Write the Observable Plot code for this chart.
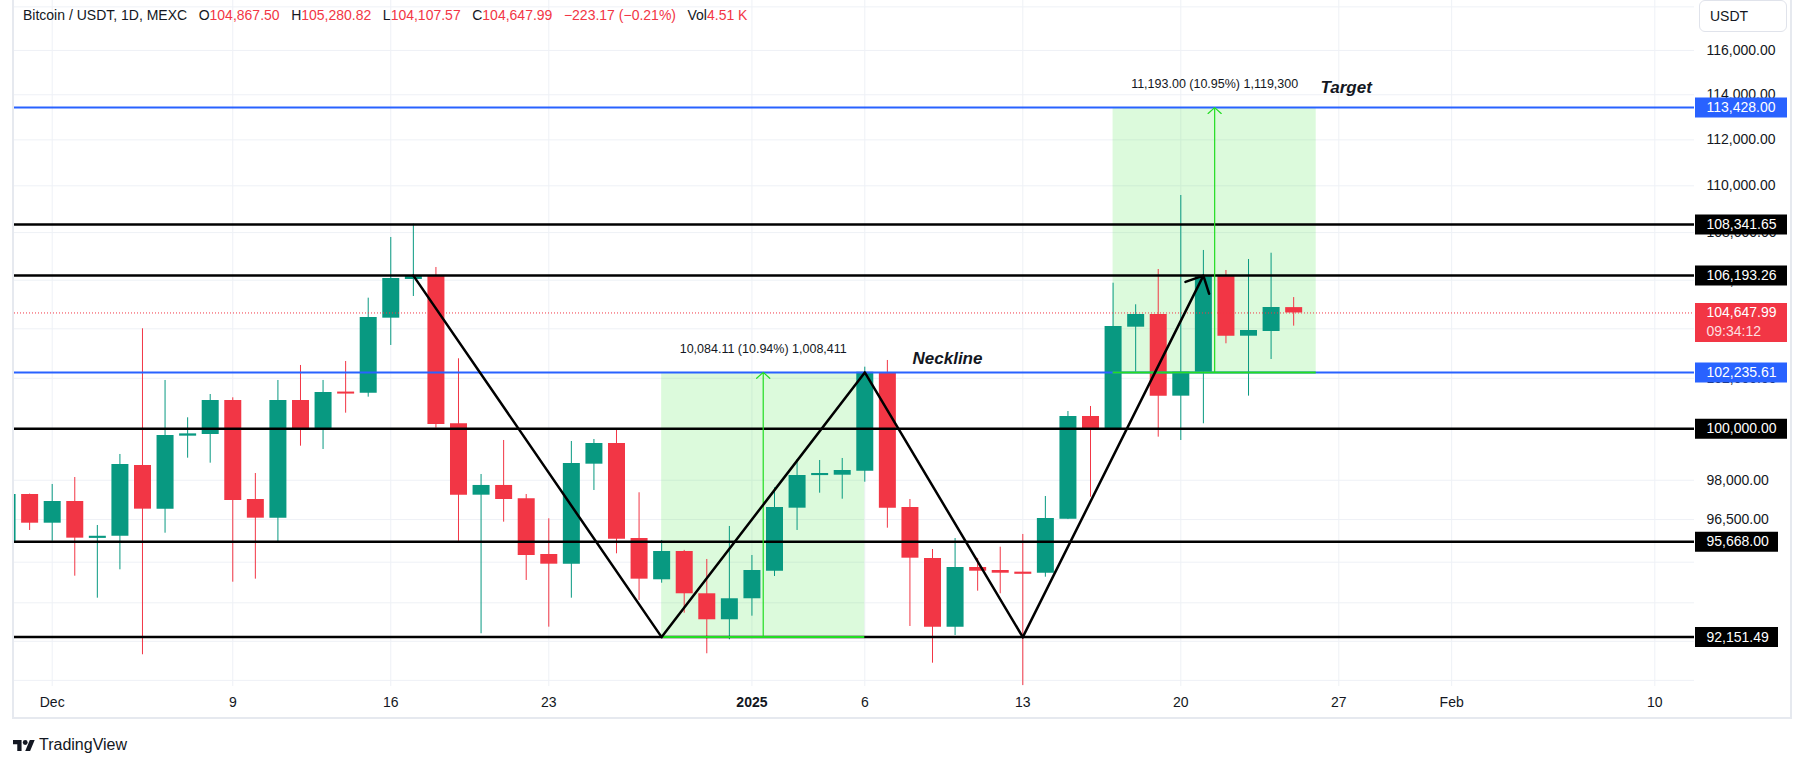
<!DOCTYPE html>
<html><head><meta charset="utf-8">
<script src="https://cdn.jsdelivr.net/npm/d3@7"></script>
<script src="https://cdn.jsdelivr.net/npm/@observablehq/plot@0.6"></script>
<style>
html,body{margin:0;padding:0;background:#fff;overflow:hidden;}
#wrap{position:relative;width:1804px;height:764px;overflow:hidden;font-family:"Liberation Sans",Arial,sans-serif;color:#131722;background:#fff;}
#chart{position:absolute;left:0;top:0;}
#frame{position:absolute;left:12px;top:-2px;width:1776px;height:719px;border:2px solid #e6e9ef;border-top:none;box-sizing:content-box;pointer-events:none;}
#hdr{position:absolute;left:23px;top:7px;font-size:14px;line-height:17px;white-space:nowrap;}
#hdr span{margin-right:11.5px;}
.r{color:#f23645;}
#usdt{position:absolute;left:1699px;top:0px;width:88px;height:32px;border:1px solid #e0e3eb;border-radius:6px;box-sizing:border-box;font-size:14px;line-height:30px;padding-left:10px;background:#fff;}
#foot{position:absolute;left:13px;top:736px;height:18px;display:flex;align-items:center;font-size:16px;}
#foot svg{margin-right:4px;}
</style>
</head>
<body>
<div id="wrap">
  <div id="chart"></div>
  <div id="frame"></div>
  <div id="hdr"><span>Bitcoin / USDT, 1D, MEXC</span><span>O<span class="r" style="margin:0">104,867.50</span></span><span>H<span class="r" style="margin:0">105,280.82</span></span><span>L<span class="r" style="margin:0">104,107.57</span></span><span>C<span class="r" style="margin:0">104,647.99</span></span><span class="r">−223.17 (−0.21%)</span><span>Vol<span class="r" style="margin:0">4.51 K</span></span></div>
  <div id="usdt">USDT</div>
  <div id="foot"><svg width="22" height="11" viewBox="0 4 36 18"><path fill="#131722" d="M14 22H7V11H0V4h14v18zM28 22h-8l7.5-18h8L28 22z"/><circle fill="#131722" cx="20" cy="8" r="4"/></svg><span>TradingView</span></div>
</div>
<script>
// ---- data ----
const dates = ["2024-11-29","2024-11-30","2024-12-01","2024-12-02","2024-12-03","2024-12-04","2024-12-05","2024-12-06","2024-12-07","2024-12-08","2024-12-09","2024-12-10","2024-12-11","2024-12-12","2024-12-13","2024-12-14","2024-12-15","2024-12-16","2024-12-17","2024-12-18","2024-12-19","2024-12-20","2024-12-21","2024-12-22","2024-12-23","2024-12-24","2024-12-25","2024-12-26","2024-12-27","2024-12-28","2024-12-29","2024-12-30","2024-12-31","2025-01-01","2025-01-02","2025-01-03","2025-01-04","2025-01-05","2025-01-06","2025-01-07","2025-01-08","2025-01-09","2025-01-10","2025-01-11","2025-01-12","2025-01-13","2025-01-14","2025-01-15","2025-01-16","2025-01-17","2025-01-18","2025-01-19","2025-01-20","2025-01-21","2025-01-22","2025-01-23","2025-01-24","2025-01-25"];
const opens  = [95610,97454,96363,97187,95790,95870,98570,96895,99710,99776,101115,97263,96553,101115,99984,101450,101405,104434,106031,106168,100196,97428,97800,97290,95187,94826,98620,99424,95786,94247,95299,93731,92780,93548,94565,96932,98180,98195,98350,102235,96958,95040,92511,94703,94591,94530,94491,96515,100483,99961,104065,104585,101287,102244,106168,103698,103890,104867.50];
const highs  = [97800,97470,97838,98106,96276,98996,104000,101912,100431,101353,101222,98260,101912,102514,101912,102674,105256,107793,108358,106531,102783,98222,99541,97454,96530,99502,99580,99971,97520,95712,95340,95001,96239,95150,97711,98801,98763,98841,102445,102715,97263,95372,95786,95040,95460,95938,97378,100679,100878,105877,104984,106447,109583,107245,106406,106866,107130,105280.82];
const lows   = [95400,96088,95684,94380,93569,94617,91515,95986,98852,98659,94158,94270,95648,99319,99190,100613,101247,103321,105326,100022,95684,92272,96402,94222,92511,93569,97607,95213,93486,94121,93021,91551,92055,92911,94369,96088,97504,97274,97925,96174,92536,91213,92210,93827,93731,90419,94343,96500,97351,99950,102244,99670,99541,100196,103390,101287,102755,104107.57];
const closes = [97454,96363,97187,95799,95870,98608,96895,99737,99800,101115,97226,96553,101115,99984,101433,101370,104462,106073,106168,100168,97428,97800,97263,95150,94826,98647,99424,95761,94270,95299,93731,92780,93548,94591,96958,98183,98260,98377,102244,96932,95049,92511,94703,94565,94491,94450,96541,100483,99961,104094,104585,101287,102244,106198,103698,103931,104873,104647.99];

const blackLevels = [108341.65, 106193.26, 100000, 95668, 92151.49];
const blueLevels = [113428, 102235.61];
const lastPrice = 104647.99;
const countdown = "09:34:12";

// W pattern (zigzag) points
const zigDates = ["2024-12-17","2024-12-28","2025-01-06","2025-01-13","2025-01-21"];
const zigPrices = [106193.26, 92151.49, 102235.61, 92151.49, 106193.26];

// price range tools
const rangeStart = ["2024-12-28","2025-01-17"];
const rangeEnd = ["2025-01-06","2025-01-26"];
const rangeLo = [92151.49, 102235.61];
const rangeHi = [102235.61, 113428];
const rangeText = ["10,084.11 (10.94%) 1,008,411", "11,193.00 (10.95%) 1,119,300"];

// text notes
const noteText = ["Neckline", "Target"];
const noteDates = ["2025-01-08", "2025-01-26"];
const notePrices = [102235.61, 113428];

// axis ticks
const yTicks = [90600, 92000, 93400, 94900, 96500, 98000, 100000, 102000, 104000, 106000, 108000, 110000, 112000, 114000, 116000, 118000];
const xTickDates = ["2024-12-01","2024-12-09","2024-12-16","2024-12-23","2025-01-01","2025-01-06","2025-01-13","2025-01-20","2025-01-27","2025-02-01","2025-02-10"];
const xTickLabels = ["Dec","9","16","23","2025","6","13","20","27","Feb","10"];
const xBold = ["2025"];

// ---- build ----
const UP = "#089981", DOWN = "#f23645", GREEN = "#22dd22";
const candles = dates.map((d, i) => ({date: new Date(d), open: opens[i], high: highs[i], low: lows[i], close: closes[i]}));
const ups = candles.filter(d => d.close >= d.open);
const downs = candles.filter(d => d.close < d.open);
const zig = zigDates.map((d, i) => ({date: new Date(d), price: zigPrices[i]}));
const zigLine = zig.slice(0, 4);
const zigArrow = [{x1: zig[3].date, y1: zig[3].price, x2: zig[4].date, y2: zig[4].price}];
const ranges = rangeStart.map((s, i) => {
  const a = new Date(s), b = new Date(rangeEnd[i]);
  return {start: a, end: b, mid: new Date((+a + +b) / 2), lo: rangeLo[i], hi: rangeHi[i], text: rangeText[i]};
});
const notes = noteText.map((t, i) => ({text: t, date: new Date(noteDates[i]), price: notePrices[i]}));
const xTicks = xTickDates.map(d => new Date(d));
const xLabel = new Map(xTicks.map((d, i) => [+d, xTickLabels[i]]));
const xTicksNormal = xTicks.filter((d, i) => !xBold.includes(xTickLabels[i]));
const xTicksBold = xTicks.filter((d, i) => xBold.includes(xTickLabels[i]));
const fmt = d3.format(",.2f");
const t0 = Date.UTC(2024, 11, 1), DAY = 864e5;
const dayAt = d => new Date(t0 + d * DAY);

const black10 = blackLevels.filter(v => fmt(v).length >= 10);
const black9 = blackLevels.filter(v => fmt(v).length < 10);
const allLevels = [...blueLevels, ...blackLevels];
const noteStyle = {x: "date", y: "price", text: "text", textAnchor: "start", fontSize: 17, fontWeight: "bold", fontStyle: "italic", fill: "#131722"};

const chart = Plot.plot({
  width: 1804, height: 764,
  marginLeft: 14, marginRight: 110, marginTop: 0, marginBottom: 78,
  style: {fontFamily: '"Liberation Sans", Arial, sans-serif', fontSize: "14px", color: "#131722", background: "transparent", overflow: "visible"},
  x: {type: "utc", domain: [dayAt(-1.670), dayAt(72.758)]},
  y: {type: "log", domain: [90383, 118295]},
  marks: [
    Plot.gridX(xTicks, {stroke: "#eef1f6", strokeOpacity: 1}),
    Plot.gridY(yTicks, {stroke: "#eef1f6", strokeOpacity: 1}),
    Plot.axisY({ticks: yTicks, anchor: "right", tickSize: 0, tickPadding: 12, tickFormat: fmt, fontSize: 14, fill: "#131722", label: null}),
    Plot.axisX({ticks: xTicksNormal, tickSize: 0, tickPadding: 11, tickFormat: d => xLabel.get(+d), fontSize: 14, fill: "#131722", label: null}),
    Plot.axisX({ticks: xTicksBold, tickSize: 0, tickPadding: 11, tickFormat: d => xLabel.get(+d), fontSize: 14, fontWeight: "bold", fill: "#131722", label: null}),
    // price range fill
    Plot.rect(ranges, {x1: "start", x2: "end", y1: "lo", y2: "hi", fill: "#3ce63c", fillOpacity: 0.18}),
    // candles
    Plot.ruleX(ups, {x: "date", y1: "low", y2: "high", stroke: UP, strokeWidth: 1, clip: true}),
    Plot.ruleX(downs, {x: "date", y1: "low", y2: "high", stroke: DOWN, strokeWidth: 1, clip: true}),
    Plot.ruleX(ups, {x: "date", y1: "open", y2: "close", stroke: UP, strokeWidth: 17, clip: true}),
    Plot.ruleX(downs, {x: "date", y1: "open", y2: "close", stroke: DOWN, strokeWidth: 17, clip: true}),
    // horizontal levels
    Plot.ruleY(blueLevels, {stroke: "#2962ff", strokeWidth: 2}),
    Plot.ruleY(blackLevels, {stroke: "#000", strokeWidth: 2.5}),
    Plot.ruleY([lastPrice], {stroke: DOWN, strokeWidth: 1, strokeDasharray: "1,2"}),
    // price range lines/arrows
    Plot.ruleY(ranges, {y: "lo", x1: "start", x2: "end", stroke: GREEN, strokeWidth: 2}),
    Plot.arrow(ranges, {x1: "mid", x2: "mid", y1: "lo", y2: "hi", stroke: GREEN, strokeWidth: 1.2, headLength: 11, headAngle: 96}),
    Plot.text(ranges, {x: "mid", y: "hi", text: "text", dy: -23.5, fontSize: 12.5, fill: "#131722"}),
    // W pattern
    Plot.line(zigLine, {x: "date", y: "price", stroke: "#000", strokeWidth: 2.5}),
    Plot.arrow(zigArrow, {x1: "x1", y1: "y1", x2: "x2", y2: "y2", stroke: "#000", strokeWidth: 2.5, headLength: 11.4, headAngle: 88}),
    // notes
    Plot.text(notes.filter(d => d.text === "Neckline"), {...noteStyle, dx: 2.6, dy: -14}),
    Plot.text(notes.filter(d => d.text === "Target"), {...noteStyle, dx: 4.3, dy: -20}),
    // price labels on the axis
    Plot.tickY(blueLevels, {stroke: "#2962ff", strokeWidth: 20, insetLeft: 1681, insetRight: -93}),
    Plot.tickY(black10, {stroke: "#000", strokeWidth: 20, insetLeft: 1681, insetRight: -93}),
    Plot.tickY(black9, {stroke: "#000", strokeWidth: 20, insetLeft: 1681, insetRight: -84}),
    Plot.tickY([lastPrice], {stroke: DOWN, strokeWidth: 39, dy: 9.5, insetLeft: 1681, insetRight: -93}),
    Plot.text(allLevels, {y: d => d, text: d => fmt(d), frameAnchor: "right", dx: 12, textAnchor: "start", fill: "white", fontSize: 14}),
    Plot.text([lastPrice], {y: d => d, text: d => fmt(d), frameAnchor: "right", dx: 12, textAnchor: "start", fill: "white", fontSize: 14}),
    Plot.text([lastPrice], {y: d => d, text: () => countdown, frameAnchor: "right", dx: 12, dy: 18.5, textAnchor: "start", fill: "white", fillOpacity: 0.85, fontSize: 14})
  ]
});
document.getElementById("chart").appendChild(chart);
</script>
</body></html>
